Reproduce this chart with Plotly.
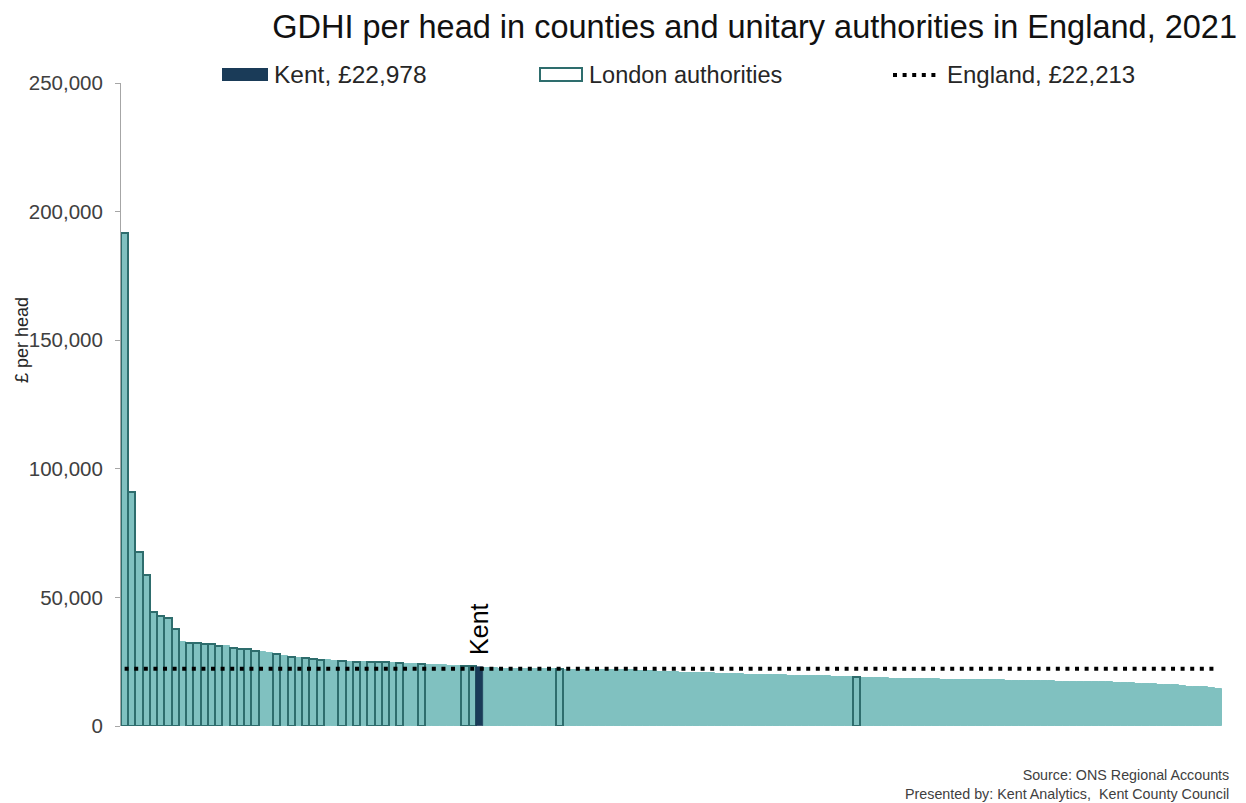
import plotly.graph_objects as go

# GDHI per head (£), 2021, England counties and unitary authorities, ranked high to low
rank = list(range(1, 153))
gdhi = [
    191600, 91100, 67800, 58700, 44400, 42800, 41900, 37700, 32500, 32200,
    32100, 31800, 31700, 31300, 31000, 30200, 29900, 29800, 29300, 28800,
    28500, 28000, 27300, 26900, 26500, 26300, 26200, 25600, 25500, 25400,
    25300, 25000, 24900, 24850, 24800, 24750, 24700, 24600, 24550, 24300,
    24100, 24000, 23900, 23750, 23600, 23500, 23400, 23300, 23150, 22978,
    22600, 22400, 22300, 22250, 22200, 22150, 22100, 22100, 22050, 22050,
    22000, 21950, 21950, 21900, 21900, 21850, 21850, 21800, 21800, 21750,
    21700, 21400, 21300, 21250, 21150, 21050, 20850, 20750, 20700, 20650,
    20550, 20500, 20400, 20250, 20150, 20050, 20000, 19850, 19800, 19750,
    19700, 19650, 19600, 19550, 19500, 19350, 19300, 19250, 19200, 19100,
    19000, 18900, 18750, 18700, 18650, 18600, 18450, 18400, 18350, 18300,
    18250, 18200, 18100, 17950, 17950, 17900, 17850, 17850, 17800, 17750,
    17700, 17700, 17650, 17600, 17550, 17450, 17400, 17350, 17350, 17300,
    17250, 17200, 17150, 17100, 17050, 17000, 16950, 16800, 16700, 16600,
    16500, 16250, 16150, 16050, 15950, 15750, 15600, 15250, 15100, 15000,
    14700, 14500,
]
# ranks held by London boroughs
london_ranks = [1, 2, 3, 4, 5, 6, 7, 8, 10, 11, 12, 13, 14, 16, 17, 18, 19,
                22, 24, 26, 27, 28, 31, 33, 35, 36, 37, 39, 42, 48, 49, 61, 102]
kent_rank = 50
kent_value = 22978
england_value = 22213
y_ticks = [0, 50000, 100000, 150000, 200000, 250000]

TEAL = "#80c1c0"
TEAL_EDGE = "#2e6d6d"
NAVY = "#1a3b58"
TXT = "#262626"
FONT = "Liberation Sans, Arial, sans-serif"

W, H = 1246, 803
L, R, T, B = 121, 24, 83, 77
PW, PH = W - L - R, H - T - B


def px(x):
    return (x - L) / PW


def py(y):
    return (H - B - y) / PH


other_x = [r for r in rank if r not in london_ranks and r != kent_rank]
other_y = [gdhi[r - 1] for r in other_x]
lon_y = [gdhi[r - 1] for r in london_ranks]

fig = go.Figure()
fig.add_trace(go.Bar(x=other_x, y=other_y, width=1,
                     marker=dict(color=TEAL, line=dict(color=TEAL, width=1))))
fig.add_trace(go.Bar(x=london_ranks, y=lon_y, width=1,
                     marker=dict(color=TEAL, line=dict(color=TEAL_EDGE, width=2))))
fig.add_trace(go.Bar(x=[kent_rank], y=[kent_value], width=1,
                     marker=dict(color=NAVY, line=dict(color=NAVY, width=0.6))))
fig.add_trace(go.Scatter(x=[rank[0], rank[-1]], y=[england_value, england_value], mode="lines",
                         line=dict(color="black", width=4, dash="4px,5.6px")))

annotations = [
    dict(x=kent_rank, y=kent_value, xref="x", yref="y", text="Kent", textangle=-90,
         showarrow=False, yanchor="bottom", yshift=10, font=dict(size=25, color="black", family=FONT)),
    dict(x=px(10), y=py(340), xref="paper", yref="paper", text="£ per head", textangle=-90,
         showarrow=False, font=dict(size=18, color=TXT, family=FONT)),
    dict(x=px(1231), y=py(784), xref="paper", yref="paper", xanchor="right", yanchor="middle",
         align="right", showarrow=False,
         text="Source: ONS Regional Accounts<br>Presented by: Kent Analytics,  Kent County Council",
         font=dict(size=14.3, color="#404040", family=FONT)),
    dict(x=px(272), y=py(75), xref="paper", yref="paper", xanchor="left", yanchor="middle",
         showarrow=False, text=f"Kent, £{kent_value:,}", font=dict(size=24.5, color=TXT, family=FONT)),
    dict(x=px(587), y=py(75), xref="paper", yref="paper", xanchor="left", yanchor="middle",
         showarrow=False, text="London authorities", font=dict(size=23.5, color=TXT, family=FONT)),
    dict(x=px(945), y=py(75), xref="paper", yref="paper", xanchor="left", yanchor="middle",
         showarrow=False, text=f"England, £{england_value:,}", font=dict(size=24, color=TXT, family=FONT)),
]

shapes = [
    dict(type="rect", xref="paper", yref="paper", x0=px(222), x1=px(268), y0=py(81), y1=py(68),
         fillcolor=NAVY, line=dict(width=0)),
    dict(type="rect", xref="paper", yref="paper", x0=px(540), x1=px(582), y0=py(81), y1=py(68),
         fillcolor="white", line=dict(color=TEAL_EDGE, width=2)),
    dict(type="line", xref="paper", yref="paper", x0=px(893), x1=px(941), y0=py(75), y1=py(75),
         line=dict(color="black", width=4, dash="4px,5.6px")),
]

fig.update_layout(
    width=W, height=H,
    margin=dict(l=L, r=R, t=T, b=B),
    plot_bgcolor="white", paper_bgcolor="white",
    showlegend=False, barmode="overlay", bargap=0,
    font=dict(family=FONT),
    title=dict(text="GDHI per head in counties and unitary authorities in England, 2021",
               x=1237 / W, xanchor="right", xref="container",
               y=1 - 27 / H, yanchor="middle", yref="container",
               font=dict(size=32.5, color="#111111", family=FONT)),
    xaxis=dict(range=[rank[0] - 0.5, rank[-1] + 0.5], showticklabels=False, showgrid=False,
               zeroline=False, showline=False, ticks=""),
    yaxis=dict(range=[0, 250000], tickvals=y_ticks, tickformat=",", ticks="outside", ticklen=5,
               tickcolor="#a6a6a6", showline=True, linecolor="#a6a6a6", linewidth=1,
               ticklabelstandoff=8,
               showgrid=False, zeroline=False, tickfont=dict(size=20.5, color="#404040", family=FONT)),
    annotations=annotations,
    shapes=shapes,
)

fig.write_html("out.html")
